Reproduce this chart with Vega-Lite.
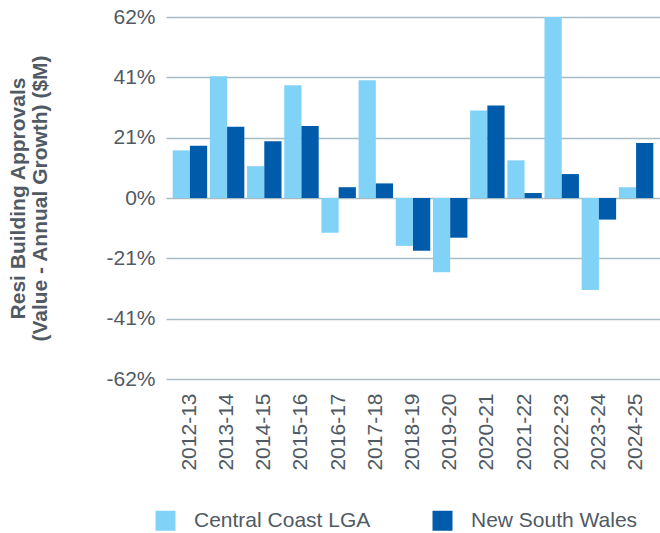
{
  "$schema": "https://vega.github.io/schema/vega-lite/v6.json",
  "autosize": {"type": "none"},
  "padding": {"left": 166, "top": 17, "right": 0, "bottom": 154},
  "width": 494,
  "height": 362,
  "background": "white",
  "config": {
    "font": "Liberation Sans",
    "view": {"stroke": null}
  },
  "data": {
    "values": [
      {"year": "2012-13", "region": "Central Coast LGA", "growth": 16.3},
      {"year": "2013-14", "region": "Central Coast LGA", "growth": 41.7},
      {"year": "2014-15", "region": "Central Coast LGA", "growth": 10.9},
      {"year": "2015-16", "region": "Central Coast LGA", "growth": 38.6},
      {"year": "2016-17", "region": "Central Coast LGA", "growth": -11.9},
      {"year": "2017-18", "region": "Central Coast LGA", "growth": 40.3},
      {"year": "2018-19", "region": "Central Coast LGA", "growth": -16.4},
      {"year": "2019-20", "region": "Central Coast LGA", "growth": -25.4},
      {"year": "2020-21", "region": "Central Coast LGA", "growth": 30.0},
      {"year": "2021-22", "region": "Central Coast LGA", "growth": 12.9},
      {"year": "2022-23", "region": "Central Coast LGA", "growth": 62.0},
      {"year": "2023-24", "region": "Central Coast LGA", "growth": -31.5},
      {"year": "2024-25", "region": "Central Coast LGA", "growth": 3.7},
      {"year": "2012-13", "region": "New South Wales", "growth": 17.9},
      {"year": "2013-14", "region": "New South Wales", "growth": 24.4},
      {"year": "2014-15", "region": "New South Wales", "growth": 19.4},
      {"year": "2015-16", "region": "New South Wales", "growth": 24.7},
      {"year": "2016-17", "region": "New South Wales", "growth": 3.7},
      {"year": "2017-18", "region": "New South Wales", "growth": 5.0},
      {"year": "2018-19", "region": "New South Wales", "growth": -18.1},
      {"year": "2019-20", "region": "New South Wales", "growth": -13.6},
      {"year": "2020-21", "region": "New South Wales", "growth": 31.7},
      {"year": "2021-22", "region": "New South Wales", "growth": 1.7},
      {"year": "2022-23", "region": "New South Wales", "growth": 8.2},
      {"year": "2023-24", "region": "New South Wales", "growth": -7.4},
      {"year": "2024-25", "region": "New South Wales", "growth": 18.8}
    ]
  },
  "mark": {"type": "bar", "clip": true},
  "encoding": {
    "x": {
      "field": "year",
      "type": "nominal",
      "sort": null,
      "scale": {"paddingInner": 0.073, "paddingOuter": 0.18},
      "axis": {
        "title": null,
        "labelAngle": 270,
        "labelFontSize": 21,
        "labelColor": "#505a64",
        "labelPadding": 14,
        "ticks": false,
        "domain": false,
        "grid": false
      }
    },
    "xOffset": {"field": "region", "type": "nominal", "scale": {"paddingInner": 0}},
    "y": {
      "field": "growth",
      "type": "quantitative",
      "scale": {"domain": [-62, 62], "nice": false, "zero": false},
      "axis": {
        "values": [-62, -41.333, -20.667, 0, 20.667, 41.333, 62],
        "labelExpr": "(datum.value < -0.5 ? '-' : '') + format(abs(datum.value), '.0f') + '%'",
        "labelFontSize": 21,
        "labelColor": "#505a64",
        "labelPadding": 11,
        "ticks": false,
        "domain": false,
        "grid": true,
        "gridColor": "#a9bcc4",
        "gridWidth": 1.5,
        "title": ["Resi Building Approvals", "(Value - Annual Growth) ($M)"],
        "titleFontSize": 21,
        "titleFontWeight": "bold",
        "titleColor": "#505a64",
        "titleLineHeight": 22,
        "titlePadding": 55
      }
    },
    "color": {
      "field": "region",
      "type": "nominal",
      "scale": {"domain": ["Central Coast LGA", "New South Wales"], "range": ["#80d3f7", "#005cab"]},
      "legend": {
        "title": null,
        "orient": "none",
        "direction": "horizontal",
        "legendX": -11,
        "legendY": 493,
        "symbolType": "square",
        "symbolSize": 400,
        "symbolStrokeWidth": 0,
        "labelFontSize": 21,
        "labelColor": "#505a64",
        "labelOffset": 18,
        "labelLimit": 400,
        "columnPadding": 61
      }
    }
  }
}
